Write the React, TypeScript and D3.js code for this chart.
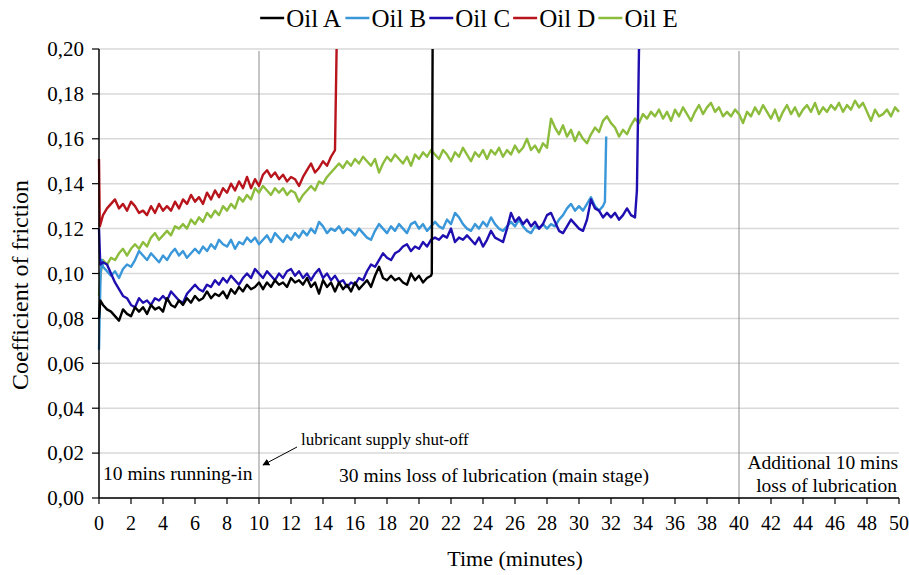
import React, { useMemo } from 'react';
import * as d3 from 'd3';

const WIDTH = 909;
const HEIGHT = 575;
const FONT = "'Liberation Serif', 'Times New Roman', serif";

// Readings are logged every quarter minute, starting at 0.25 min.
const SAMPLE_STEP = 0.25;

const seriesNames = ['Oil A', 'Oil B', 'Oil C', 'Oil D', 'Oil E'];
const seriesColors = ['#000000', '#3a97d9', '#1f0fb0', '#b8141c', '#8cbc3c'];

const xTicks = [0, 2, 4, 6, 8, 10, 12, 14, 16, 18, 20, 22, 24, 26, 28, 30, 32, 34, 36, 38, 40, 42, 44, 46, 48, 50];
const yTicks = [0, 0.02, 0.04, 0.06, 0.08, 0.1, 0.12, 0.14, 0.16, 0.18, 0.2];
const stageMarkers = [10, 40];

// Oil A
const oilAStart: [number, number][] = [[0, 0.080], [0.08, 0.088]];
const oilAReadings = [
  0.086, 0.084, 0.083, 0.081,
  0.079, 0.084, 0.082, 0.081,
  0.085, 0.083, 0.085, 0.082,
  0.086, 0.084, 0.085, 0.083,
  0.089, 0.086, 0.085, 0.088,
  0.086, 0.089, 0.087, 0.090,
  0.088, 0.089, 0.092, 0.089,
  0.091, 0.090, 0.092, 0.089,
  0.093, 0.091, 0.094, 0.092,
  0.095, 0.093, 0.094, 0.096,
  0.093, 0.096, 0.094, 0.097,
  0.095, 0.096, 0.094, 0.098,
  0.096, 0.097, 0.095, 0.098,
  0.094, 0.096, 0.091, 0.097,
  0.094, 0.096, 0.092, 0.096,
  0.093, 0.095, 0.092, 0.096,
  0.093, 0.095, 0.097, 0.094,
  0.099, 0.103, 0.098, 0.097,
  0.099, 0.097, 0.098, 0.096,
  0.095, 0.100, 0.097, 0.099,
  0.096, 0.098, 0.099,
];
const oilAFailure: [number, number][] = [[20.8, 0.100], [20.85, 0.2]];

// Oil B
const oilBStart: [number, number][] = [[0, 0.066], [0.1, 0.100], [0.18, 0.106]];
const oilBReadings = [
  0.103, 0.101, 0.099, 0.101,
  0.098, 0.102, 0.104, 0.103,
  0.106, 0.110, 0.108, 0.106,
  0.109, 0.107, 0.105, 0.108,
  0.106, 0.109, 0.111, 0.108,
  0.110, 0.107, 0.109, 0.111,
  0.109, 0.112, 0.110, 0.113,
  0.111, 0.115, 0.113, 0.112,
  0.115, 0.111, 0.114, 0.113,
  0.116, 0.114, 0.116, 0.113,
  0.115, 0.117, 0.114, 0.118,
  0.116, 0.114, 0.117, 0.115,
  0.118, 0.116, 0.119, 0.117,
  0.120, 0.118, 0.123, 0.121,
  0.118, 0.120, 0.119, 0.121,
  0.118, 0.120, 0.119, 0.117,
  0.120, 0.118, 0.116, 0.115,
  0.119, 0.122, 0.120, 0.118,
  0.121, 0.119, 0.122, 0.120,
  0.118, 0.122, 0.123, 0.120,
  0.122, 0.119, 0.121, 0.123,
  0.121, 0.120, 0.124, 0.122,
  0.127, 0.125, 0.122, 0.120,
  0.119, 0.122, 0.120, 0.123,
  0.121, 0.125, 0.122, 0.120,
  0.119, 0.121, 0.123, 0.121,
  0.124, 0.121, 0.119, 0.118,
  0.121, 0.120, 0.122, 0.120,
  0.122, 0.121, 0.124, 0.126,
  0.129, 0.131, 0.128, 0.130,
  0.128, 0.131, 0.134, 0.130,
  0.128, 0.130,
];
const oilBFailure: [number, number][] = [[31.62, 0.132], [31.7, 0.161]];

// Oil C
const oilCStart: [number, number][] = [[0, 0.120], [0.08, 0.104]];
const oilCReadings = [
  0.105, 0.104, 0.100, 0.096,
  0.093, 0.090, 0.089, 0.086,
  0.085, 0.089, 0.087, 0.088,
  0.086, 0.089, 0.088, 0.090,
  0.088, 0.092, 0.090, 0.088,
  0.087, 0.091, 0.093, 0.095,
  0.093, 0.092, 0.095, 0.094,
  0.097, 0.095, 0.098, 0.096,
  0.099, 0.097, 0.095, 0.098,
  0.100, 0.098, 0.102, 0.100,
  0.098, 0.101, 0.099, 0.097,
  0.100, 0.098, 0.101, 0.102,
  0.099, 0.101, 0.098, 0.100,
  0.097, 0.100, 0.102, 0.098,
  0.100, 0.097, 0.099, 0.096,
  0.097, 0.094, 0.096, 0.095,
  0.098, 0.097, 0.101, 0.104,
  0.103, 0.106, 0.109, 0.107,
  0.106, 0.109, 0.110, 0.112,
  0.113, 0.110, 0.112, 0.111,
  0.114, 0.112, 0.115, 0.116,
  0.115, 0.117, 0.116, 0.120,
  0.114, 0.116, 0.115, 0.117,
  0.115, 0.113, 0.116, 0.112,
  0.115, 0.119, 0.116, 0.115,
  0.114, 0.120, 0.127, 0.123,
  0.125, 0.122, 0.124, 0.121,
  0.123, 0.120, 0.122, 0.126,
  0.127, 0.123, 0.119, 0.118,
  0.121, 0.124, 0.122, 0.120,
  0.119, 0.124, 0.133, 0.129,
  0.128, 0.125, 0.127, 0.125,
  0.127, 0.124, 0.126, 0.129,
  0.126,
];
const oilCFailure: [number, number][] = [[33.5, 0.125], [33.62, 0.137], [33.75, 0.2]];

// Oil D
const oilDStart: [number, number][] = [[0, 0.151], [0.05, 0.121]];
const oilDReadings = [
  0.126, 0.129, 0.131, 0.133,
  0.129, 0.131, 0.128, 0.132,
  0.130, 0.127, 0.128, 0.126,
  0.130, 0.127, 0.131, 0.128,
  0.130, 0.128, 0.132, 0.129,
  0.133, 0.131, 0.135, 0.132,
  0.134, 0.131, 0.136, 0.133,
  0.137, 0.134, 0.138, 0.136,
  0.140, 0.137, 0.141, 0.138,
  0.143, 0.138, 0.142, 0.139,
  0.144, 0.146, 0.143, 0.145,
  0.142, 0.144, 0.141, 0.143,
  0.142, 0.139, 0.143, 0.146,
  0.149, 0.145, 0.147, 0.150,
  0.148, 0.152, 0.155,
];
const oilDFailure: [number, number][] = [[14.85, 0.2]];

// Oil E
const oilEStart: [number, number][] = [[0, 0.090], [0.1, 0.100]];
const oilEReadings = [
  0.106, 0.104, 0.107, 0.106,
  0.109, 0.111, 0.108, 0.111,
  0.113, 0.111, 0.114, 0.112,
  0.116, 0.118, 0.115, 0.117,
  0.119, 0.117, 0.121, 0.120,
  0.122, 0.120, 0.124, 0.122,
  0.125, 0.123, 0.127, 0.125,
  0.128, 0.126, 0.130, 0.128,
  0.131, 0.129, 0.134, 0.132,
  0.135, 0.133, 0.138, 0.136,
  0.139, 0.137, 0.135, 0.138,
  0.136, 0.138, 0.135, 0.137,
  0.136, 0.132, 0.135, 0.137,
  0.139, 0.137, 0.141, 0.140,
  0.143, 0.145, 0.147, 0.149,
  0.147, 0.150, 0.148, 0.151,
  0.149, 0.152, 0.150, 0.148,
  0.151, 0.145, 0.149, 0.152,
  0.150, 0.153, 0.151, 0.149,
  0.152, 0.148, 0.153, 0.151,
  0.154, 0.152, 0.155, 0.153,
  0.151, 0.155, 0.153, 0.150,
  0.154, 0.152, 0.156, 0.153,
  0.150, 0.154, 0.152, 0.155,
  0.151, 0.155, 0.153, 0.156,
  0.152, 0.155, 0.153, 0.157,
  0.154, 0.156, 0.160, 0.155,
  0.157, 0.154, 0.158, 0.156,
  0.169, 0.165, 0.162, 0.166,
  0.161, 0.164, 0.159, 0.163,
  0.160, 0.158, 0.162, 0.165,
  0.163, 0.168, 0.170, 0.167,
  0.165, 0.161, 0.164, 0.162,
  0.166, 0.169, 0.167, 0.171,
  0.169, 0.172, 0.170, 0.173,
  0.169, 0.172, 0.168, 0.173,
  0.170, 0.174, 0.171, 0.168,
  0.172, 0.175, 0.171, 0.174,
  0.176, 0.172, 0.174, 0.170,
  0.172, 0.170, 0.173, 0.171,
  0.167, 0.172, 0.170, 0.174,
  0.171, 0.175, 0.172, 0.169,
  0.173, 0.168, 0.172, 0.175,
  0.171, 0.174, 0.170, 0.173,
  0.175, 0.172, 0.176, 0.171,
  0.174, 0.172, 0.175, 0.173,
  0.176, 0.172, 0.175, 0.173,
  0.177, 0.174, 0.176, 0.172,
  0.168, 0.173, 0.170, 0.171,
  0.173, 0.170, 0.174, 0.172,
];
const oilEFailure: [number, number][] = [];

const seriesStarts = [oilAStart, oilBStart, oilCStart, oilDStart, oilEStart];
const seriesReadings = [oilAReadings, oilBReadings, oilCReadings, oilDReadings, oilEReadings];
const seriesFailures = [oilAFailure, oilBFailure, oilCFailure, oilDFailure, oilEFailure];

// Back-to-front drawing order (Oil E underneath, Oil A on top)
const drawOrder = [4, 3, 1, 2, 0];

const commaLocale = d3.formatLocale({ decimal: ',', thousands: '.', grouping: [3], currency: ['', ''] });
const fmtY = commaLocale.format('.2f');

function measure(text: string, font: string): number {
  const ctx = document.createElement('canvas').getContext('2d');
  if (!ctx) return text.length * 10;
  ctx.font = font;
  return ctx.measureText(text).width;
}

export default function App() {
  const x = d3.scaleLinear().domain([0, 50]).range([99, 899]);
  const y = d3.scaleLinear().domain([0, 0.2]).range([498, 49]);

  const series = useMemo(
    () =>
      seriesNames.map((name, k) => {
        const pts: [number, number][] = [
          ...seriesStarts[k],
          ...seriesReadings[k].map((v, i) => [(i + 1) * SAMPLE_STEP, v] as [number, number]),
          ...seriesFailures[k],
        ];
        return { name, color: seriesColors[k], pts };
      }),
    []
  );

  const line = d3
    .line<[number, number]>()
    .x((d) => x(d[0]))
    .y((d) => y(d[1]));

  // Legend laid out as one centred row
  const legendSize = 25;
  const legendFont = `${legendSize}px 'Liberation Serif'`;
  const swatch = 24;
  const items = seriesNames.map((n) => ({ n, w: measure(n, legendFont) }));
  const totalW = items.reduce((s, it) => s + swatch + 2 + it.w + 3, 0) - 3;
  let cursor = 469 - totalW / 2;
  const legendItems = items.map((it, k) => {
    const x0 = cursor;
    cursor += swatch + 2 + it.w + 3;
    return { ...it, x0, color: seriesColors[k] };
  });

  const [x0, x1] = x.range();
  const [yBottom, yTop] = y.range();

  return (
    <svg
      width={WIDTH}
      height={HEIGHT}
      style={{ position: 'absolute', left: 0, top: 0, background: '#fff' }}
      fontFamily={FONT}
    >
      <rect width={WIDTH} height={HEIGHT} fill="#fff" />
      <defs>
        <marker id="arrowHead" viewBox="0 0 10 10" refX="9" refY="5" markerWidth="7" markerHeight="7" orient="auto">
          <path d="M0,0 L10,5 L0,10 z" fill="#000" />
        </marker>
      </defs>

      {/* horizontal grid */}
      {yTicks.map((t) => (
        <line key={`g${t}`} x1={x0} x2={x1} y1={y(t)} y2={y(t)} stroke="#d9d9d9" strokeWidth={1.5} />
      ))}

      {/* stage boundaries */}
      {stageMarkers.map((m) => (
        <line key={`m${m}`} x1={x(m)} x2={x(m)} y1={yTop + 2} y2={yBottom} stroke="#8c8c8c" strokeWidth={1} />
      ))}

      {/* series */}
      {drawOrder.map((k) => (
        <path
          key={series[k].name}
          d={line(series[k].pts) || ''}
          fill="none"
          stroke={series[k].color}
          strokeWidth={2.4}
          strokeLinejoin="round"
        />
      ))}

      {/* y axis */}
      <line x1={x0} x2={x0} y1={yTop} y2={yBottom} stroke="#000" strokeWidth={1.5} />
      {yTicks.map((t) => (
        <g key={`yt${t}`}>
          <line x1={x0 - 7} x2={x0} y1={y(t)} y2={y(t)} stroke="#000" strokeWidth={1.2} />
          <text x={x0 - 15} y={y(t)} dy="0.35em" textAnchor="end" fontSize={21}>
            {fmtY(t)}
          </text>
        </g>
      ))}

      {/* x axis */}
      <line x1={x0} x2={x1} y1={yBottom} y2={yBottom} stroke="#000" strokeWidth={1.5} />
      {xTicks.map((t) => (
        <g key={`xt${t}`}>
          <line x1={x(t)} x2={x(t)} y1={yBottom} y2={yBottom + 6} stroke="#000" strokeWidth={1.2} />
          <text x={x(t)} y={530} textAnchor="middle" fontSize={20}>
            {t}
          </text>
        </g>
      ))}

      {/* axis titles */}
      <text x={(x0 + x1) / 2 + 16} y={566} textAnchor="middle" fontSize={22}>
        Time (minutes)
      </text>
      <text transform={`translate(28, 285) rotate(-90)`} textAnchor="middle" fontSize={24}>
        Coefficient of friction
      </text>

      {/* stage annotations */}
      <text x={103} y={480} fontSize={19.5}>10 mins running-in</text>
      <text x={301} y={445} fontSize={17}>lubricant supply shut-off</text>
      <line x1={297} y1={447} x2={263} y2={465} stroke="#000" strokeWidth={1} markerEnd="url(#arrowHead)" />
      <text x={494} y={482} textAnchor="middle" fontSize={19.5}>30 mins loss of lubrication (main stage)</text>
      <text x={898} y={469} textAnchor="end" fontSize={19.5}>Additional 10 mins</text>
      <text x={897} y={492} textAnchor="end" fontSize={19.5}>loss of lubrication</text>

      {/* legend */}
      {legendItems.map((it) => (
        <g key={it.n}>
          <line x1={it.x0} x2={it.x0 + swatch} y1={18} y2={18} stroke={it.color} strokeWidth={2.5} />
          <text x={it.x0 + swatch + 2} y={26.5} fontSize={legendSize}>
            {it.n}
          </text>
        </g>
      ))}
    </svg>
  );
}
